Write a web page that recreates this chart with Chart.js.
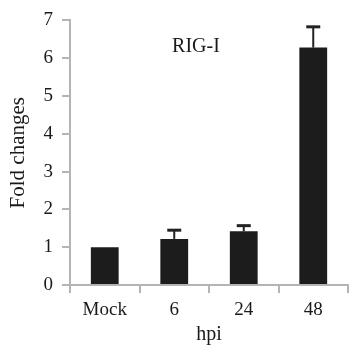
<!DOCTYPE html>
<html>
<head>
<meta charset="utf-8">
<script src="https://cdn.jsdelivr.net/npm/chart.js@4"></script>
<style>
html,body{margin:0;padding:0;background:#fff;}
#wrap{width:354px;height:354px;position:relative;}
</style>
</head>
<body>
<div id="wrap"><canvas id="c" width="354" height="354"></canvas></div>
<script>
const categories = ["Mock", "6", "24", "48"];
const foldValues = [1.0, 1.22, 1.42, 6.28];
const errorValues = [0, 0.23, 0.15, 0.55];
const yTicks = [0, 1, 2, 3, 4, 5, 6, 7];
const panelLabel = "RIG-I";

const serif = '"Liberation Serif", "Times New Roman", serif';
const axisGray = '#b4b4b4';

const errorBarPlugin = {
  id: 'errorBars',
  afterDatasetsDraw(chart) {
    const ctx = chart.ctx;
    const meta = chart.getDatasetMeta(0);
    const y = chart.scales.y;
    ctx.save();
    ctx.strokeStyle = '#222';
    meta.data.forEach((bar, i) => {
      const err = errorValues[i];
      if (!err) return;
      const x = bar.x;
      const yTop = y.getPixelForValue(foldValues[i] + err);
      const yBase = y.getPixelForValue(foldValues[i]);
      ctx.lineWidth = 2;
      ctx.beginPath();
      ctx.moveTo(x, yBase);
      ctx.lineTo(x, yTop);
      ctx.stroke();
      ctx.lineWidth = 3;
      ctx.beginPath();
      ctx.moveTo(x - 7, yTop);
      ctx.lineTo(x + 7, yTop);
      ctx.stroke();
    });
    ctx.fillStyle = '#1a1a1a';
    ctx.font = '20px ' + serif;
    ctx.textAlign = 'center';
    ctx.textBaseline = 'middle';
    ctx.fillText(panelLabel, 196, 47);
    ctx.restore();
  }
};

new Chart(document.getElementById('c'), {
  type: 'bar',
  data: {
    labels: categories,
    datasets: [{
      data: foldValues,
      backgroundColor: '#1c1c1c',
      borderWidth: 0,
      barPercentage: 0.4,
      categoryPercentage: 1.0
    }]
  },
  options: {
    responsive: false,
    animation: false,
    devicePixelRatio: 1,
    layout: { padding: { top: 11, right: 6, bottom: 0, left: 0 } },
    plugins: { legend: { display: false }, tooltip: { enabled: false } },
    scales: {
      x: {
        offset: true,
        grid: { display: true, drawOnChartArea: false, drawTicks: true, tickLength: 8, color: axisGray, lineWidth: 2, offset: true },
        border: { display: true, color: axisGray, width: 2 },
        ticks: { color: '#1a1a1a', font: { family: serif, size: 19 }, padding: 6, maxRotation: 0 },
        title: { display: true, text: 'hpi', color: '#1a1a1a', font: { family: serif, size: 20 }, padding: { top: 0, bottom: 7 } },
        afterFit(scale) { scale.height = 69; }
      },
      y: {
        min: 0, max: 7,
        afterBuildTicks(scale) { scale.ticks = yTicks.map(v => ({ value: v })); },
        grid: { display: true, drawOnChartArea: false, drawTicks: true, tickLength: 8, color: axisGray, lineWidth: 2 },
        border: { display: true, color: axisGray, width: 2 },
        ticks: { color: '#1a1a1a', font: { family: serif, size: 19 }, padding: 9 },
        title: { display: true, text: 'Fold changes', color: '#1a1a1a', font: { family: serif, size: 21 }, padding: { top: 6, bottom: 0 } },
        afterFit(scale) { scale.width = 70; }
      }
    }
  },
  plugins: [errorBarPlugin]
});
</script>
</body>
</html>
